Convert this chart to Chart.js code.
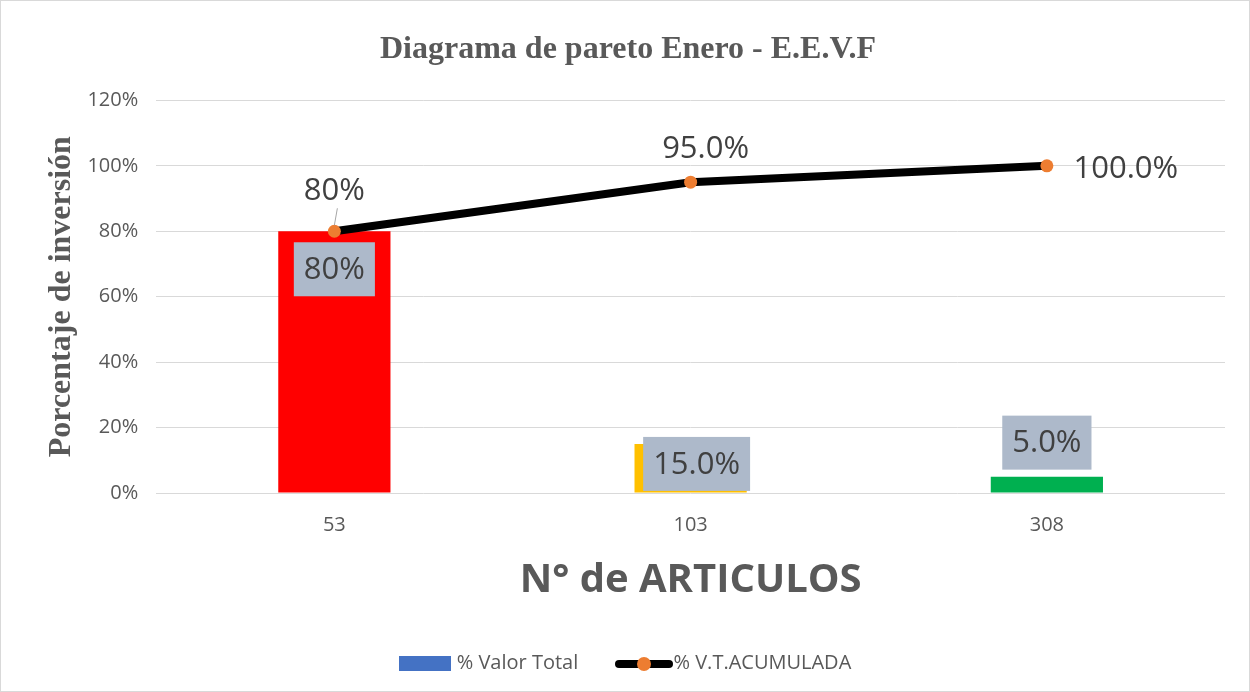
<!DOCTYPE html>
<html>
<head>
<meta charset="utf-8">
<script src="https://cdn.jsdelivr.net/npm/chart.js@4/dist/chart.umd.min.js"></script>
<style>
  body { margin: 0; background: #fff; }
  #wrap { position: relative; width: 1250px; height: 692px; box-sizing: border-box; border: 1px solid #d9d9d9; }
  #legend { position: absolute; left: 0; right: 0; top: 645px; text-align: center; font: 20px "Open Sans", sans-serif; color: #595959; }
  .item { display: inline-block; vertical-align: middle; margin: 0 16px; }
  .swatch { display: inline-block; width: 52px; height: 15px; background: #4472C4; vertical-align: middle; margin-right: 6px; }
  .lineSw { display: inline-block; position: relative; width: 58px; height: 10px; vertical-align: middle; }
  .lineSw::before { content: ''; position: absolute; left: 0; right: 0; top: 1px; height: 8px; border-radius: 4px; background: #000; }
  .lineSw::after { content: ''; position: absolute; left: 22px; top: -2px; width: 14px; height: 14px; border-radius: 50%; background: #ED7D31; }
</style>
</head>
<body>
<div id="wrap">
  <canvas id="chart" width="1248" height="690"></canvas>
  <div id="legend">
    <span class="item"><span class="swatch"></span>% Valor Total</span>
    <span class="item"><span class="lineSw"></span>% V.T.ACUMULADA</span>
  </div>
</div>
<script>
const categories = ['53', '103', '308'];
const valorTotal = [80, 15, 5];
const acumulada = [80, 95, 100];
const barLabels = ['80%', '15.0%', '5.0%'];
const lineLabels = ['80%', '95.0%', '100.0%'];
const barColors = ['#FF0000', '#FFC000', '#00B050'];

// label placement relative to the element (px)
const barLabelPos = [{ dx: 0, dy: 38 }, { dx: 6, dy: 20 }, { dx: 0, dy: -34 }];
const lineLabelPos = [{ dx: 0, dy: -40 }, { dx: 15, dy: -33 }, { dx: 79, dy: 3 }];

const labelPlugin = {
    id: 'labels',
    afterDatasetsDraw(chart) {
        const ctx = chart.ctx;
        ctx.save();
        ctx.font = '31px "Open Sans", sans-serif';
        ctx.textAlign = 'center';
        ctx.textBaseline = 'middle';

        // bar labels with grey box
        chart.getDatasetMeta(1).data.forEach((bar, i) => {
            const x = bar.x + barLabelPos[i].dx;
            const y = bar.y + barLabelPos[i].dy;
            const w = ctx.measureText(barLabels[i]).width + 20;
            ctx.fillStyle = '#ADB9CA';
            ctx.fillRect(x - w / 2, y - 27, w, 54);
            ctx.fillStyle = '#404040';
            ctx.fillText(barLabels[i], x, y + 1);
        });

        // line labels
        chart.getDatasetMeta(0).data.forEach((pt, i) => {
            const x = pt.x + lineLabelPos[i].dx;
            const y = pt.y + lineLabelPos[i].dy;
            ctx.fillStyle = '#404040';
            ctx.fillText(lineLabels[i], x, y);
            if (i === 0) {
                ctx.strokeStyle = '#A6A6A6';
                ctx.lineWidth = 1;
                ctx.beginPath();
                ctx.moveTo(pt.x + 3, pt.y - 23);
                ctx.lineTo(pt.x, pt.y - 6);
                ctx.stroke();
            }
        });
        ctx.restore();
    }
};

new Chart(document.getElementById('chart'), {
    data: {
        labels: categories,
        datasets: [
            {
                type: 'line',
                label: '% V.T.ACUMULADA',
                data: acumulada,
                borderColor: '#000000',
                borderWidth: 8,
                pointBackgroundColor: '#ED7D31',
                pointBorderColor: '#ED7D31',
                pointRadius: 6.5,
                pointBorderWidth: 0,
                tension: 0,
                order: 0
            },
            {
                type: 'bar',
                label: '% Valor Total',
                data: valorTotal,
                backgroundColor: barColors,
                barPercentage: 0.63,
                categoryPercentage: 0.5,
                order: 1
            }
        ]
    },
    options: {
        responsive: false,
        animation: false,
        layout: { padding: { left: 30, right: 24, top: 20, bottom: 84 } },
        plugins: {
            legend: { display: false },
            tooltip: { enabled: false },
            title: {
                display: true,
                text: 'Diagrama de pareto Enero - E.E.V.F',
                color: '#595959',
                font: { family: '"Liberation Serif", serif', size: 32, weight: 'bold' },
                padding: { top: 10, bottom: 31 }
            }
        },
        scales: {
            x: {
                grid: { display: false },
                border: { display: false },
                ticks: { color: '#595959', font: { family: '"Open Sans", sans-serif', size: 20 }, padding: 12 },
                title: {
                    display: true,
                    text: 'N° de ARTICULOS',
                    color: '#595959',
                    font: { family: '"Open Sans", sans-serif', size: 40, weight: 'bold' },
                    padding: { top: 8, bottom: 2 }
                }
            },
            y: {
                min: 0,
                max: 120,
                ticks: {
                    stepSize: 20,
                    color: '#595959',
                    font: { family: '"Open Sans", sans-serif', size: 20 },
                    padding: 18,
                    callback: v => v + '%'
                },
                grid: { color: '#D9D9D9', lineWidth: 1, drawTicks: false },
                border: { display: false },
                title: {
                    display: true,
                    text: 'Porcentaje de inversión',
                    color: '#595959',
                    font: { family: '"Liberation Serif", serif', size: 32, weight: 'bold' },
                    padding: { top: 12, bottom: -12 }
                }
            }
        }
    },
    plugins: [labelPlugin]
});
</script>
</body>
</html>
